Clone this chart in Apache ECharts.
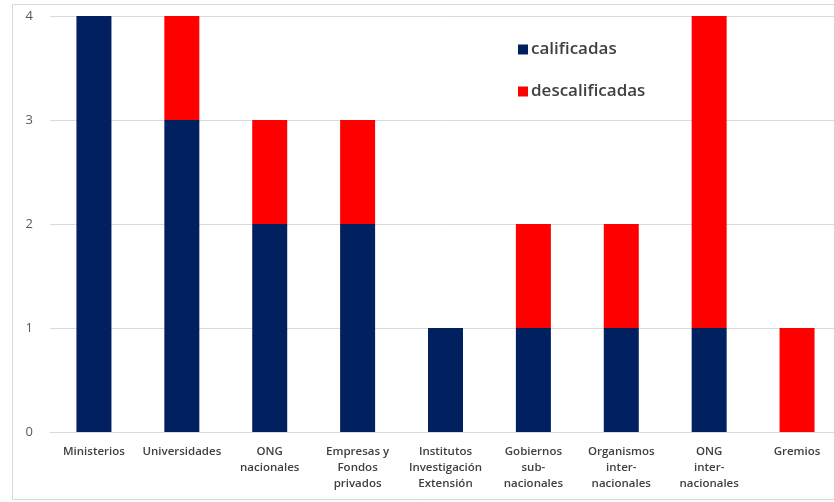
<!DOCTYPE html>
<html>
<head>
<meta charset="utf-8">
<script src="https://cdn.jsdelivr.net/npm/echarts@6/dist/echarts.min.js"></script>
<style>html,body{margin:0;padding:0;background:#fff}#c{width:834px;height:502px}</style>
</head>
<body>
<div id="c"></div>
<script>
const categories = ["Ministerios","Universidades","ONG\nnacionales","Empresas y\nFondos\nprivados","Institutos\nInvestigación\nExtensión","Gobiernos\nsub-\nnacionales","Organismos\ninter-\nnacionales","ONG\ninter-\nnacionales","Gremios"];
const calificadas = [4,3,2,2,1,1,1,1,0];
const descalificadas = [0,1,1,1,0,1,1,3,1];
const yTicks = [0,1,2,3,4];

const chart = echarts.init(document.getElementById('c'), null, {renderer:'canvas'});
chart.setOption({
  animation:false,
  backgroundColor:'#fff',
  graphic:[{type:'rect',shape:{x:12.5,y:4.5,width:830,height:495},style:{fill:'none',stroke:'#d9d9d9',lineWidth:1},z:-1}],
  legend:{
    orient:'vertical', left:513, top:36, itemWidth:10, itemHeight:10, itemGap:25,
    icon:'rect',
    textStyle:{fontFamily:'Open Sans',fontSize:17,fontWeight:600,color:'#404040',padding:[0,0,0,-2]},
    data:['calificadas','descalificadas']
  },
  grid:{left:50, top:16, width:791, height:416, containLabel:false, outerBoundsMode:'none'},
  xAxis:{
    type:'category', data:categories,
    axisLine:{lineStyle:{color:'#d9d9d9'}},
    axisTick:{show:false},
    axisLabel:{interval:0, margin:12, fontFamily:'Open Sans', fontSize:11.5, fontWeight:600, color:'#404040', lineHeight:16, align:'center'}
  },
  yAxis:{
    type:'value', min:0, max:4, interval:1,
    axisLine:{show:false}, axisTick:{show:false},
    splitLine:{lineStyle:{color:'#d9d9d9'}},
    axisLabel:{margin:17, fontFamily:'Open Sans', fontSize:13, color:'#595959',
      formatter:v=>yTicks.includes(v)?String(v):''}
  },
  series:[
    {name:'calificadas', type:'bar', stack:'a', data:calificadas, barWidth:35, itemStyle:{color:'#002060'}},
    {name:'descalificadas', type:'bar', stack:'a', data:descalificadas, barWidth:35, itemStyle:{color:'#ff0000'}}
  ]
});
</script>
</body>
</html>
